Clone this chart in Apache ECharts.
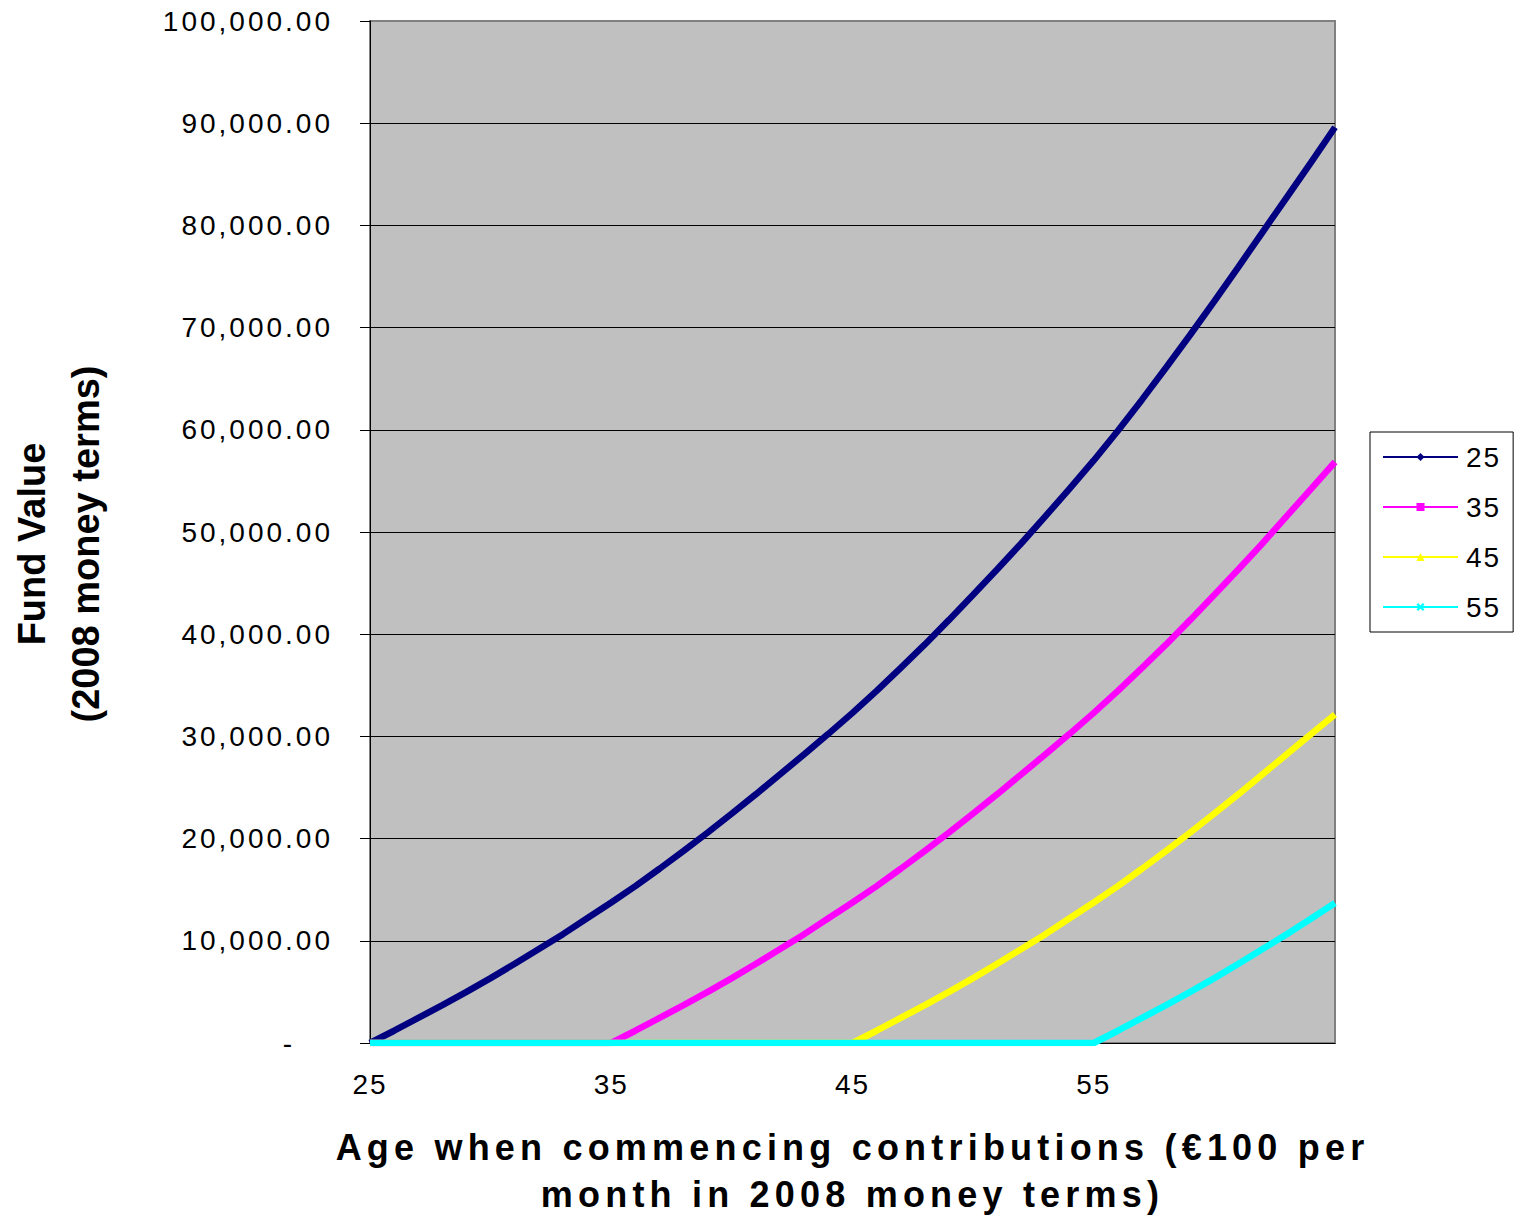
<!DOCTYPE html>
<html>
<head>
<meta charset="utf-8">
<script src="https://cdn.jsdelivr.net/npm/echarts@6/dist/echarts.min.js"></script>
<style>
  html, body { margin: 0; padding: 0; background: #ffffff; }
  #chart { width: 1516px; height: 1217px; }
</style>
</head>
<body>
<div id="chart"></div>
<script>
// ---- data (fund value at each age, 2008 money terms) ----
const ages = [25,26,27,28,29,30,31,32,33,34,35,36,37,38,39,40,41,42,43,44,45,46,47,48,49,50,51,52,53,54,55,56,57,58,59,60,61,62,63,64,65];
const seriesNames = ['25', '35', '45', '55'];
const fund25 = [0,1200,2450,3700,5000,6350,7750,9200,10650,12200,13750,15350,17050,18800,20600,22450,24350,26300,28250,30250,32300,34450,36700,39000,41400,43850,46350,48900,51550,54250,57000,59900,62950,66100,69300,72600,75950,79350,82750,86150,89600];
const fund35 = [0,0,0,0,0,0,0,0,0,0,0,1200,2450,3700,5000,6350,7750,9200,10650,12200,13750,15350,17050,18800,20600,22450,24350,26300,28250,30250,32300,34450,36700,39000,41400,43850,46350,48900,51550,54200,56850];
const fund45 = [0,0,0,0,0,0,0,0,0,0,0,0,0,0,0,0,0,0,0,0,0,1200,2450,3700,5000,6350,7750,9200,10650,12200,13750,15350,17050,18800,20600,22450,24350,26300,28250,30200,32150];
const fund55 = [0,0,0,0,0,0,0,0,0,0,0,0,0,0,0,0,0,0,0,0,0,0,0,0,0,0,0,0,0,0,0,1200,2450,3700,5000,6350,7750,9200,10650,12150,13700];
const xTickLabels = [25, 35, 45, 55];
const yTitle = 'Fund Value\n(2008 money terms)';
const xTitle = 'Age when commencing contributions (\u20ac100 per\nmonth in 2008 money terms)';

const FONT = "'Liberation Sans', Arial, sans-serif";
const colors = ['#000080', '#FF00FF', '#FFFF00', '#00FFFF'];
const symbols = ['diamond', 'rect', 'triangle',
  'path://M0,2L2,0L5,3L8,0L10,2L7,5L10,8L8,10L5,7L2,10L0,8L3,5Z'];
const allValues = [fund25, fund35, fund45, fund55];

const chart = echarts.init(document.getElementById('chart'), null, { renderer: 'svg' });

const option = {
  animation: false,
  backgroundColor: '#ffffff',
  textStyle: { fontFamily: FONT },
  grid: {
    left: 370, top: 21, right: 181, bottom: 174,
    show: true, backgroundColor: '#C0C0C0', borderColor: '#808080', borderWidth: 2,
    containLabel: false,
    outerBoundsMode: 'none'
  },
  xAxis: {
    type: 'value', min: 25, max: 65, interval: 10,
    axisLine: { show: true, lineStyle: { color: '#000', width: 1 } },
    axisTick: { show: false },
    splitLine: { show: false },
    axisLabel: {
      margin: 27, fontSize: 28, color: '#000', fontFamily: FONT,
      formatter: v => xTickLabels.includes(v) ? String(v) : ''
    },
    name: xTitle,
    nameLocation: 'middle',
    nameGap: 81,
    nameTextStyle: { fontSize: 36, fontWeight: 'bold', color: '#000', fontFamily: FONT, lineHeight: 47, align: 'center', verticalAlign: 'top' }
  },
  yAxis: {
    type: 'value', min: 0, max: 100000, interval: 10000,
    axisLine: { show: true, lineStyle: { color: '#000', width: 1 } },
    axisTick: { show: true, length: 10, inside: false, lineStyle: { color: '#000', width: 1 } },
    splitLine: { show: true, showMaxLine: false, showMinLine: false, lineStyle: { color: '#000', width: 1 } },
    axisLabel: {
      margin: 37, fontSize: 28, color: '#000', fontFamily: FONT,
      formatter: v => v === 0 ? '{dash|-}' : v.toLocaleString('en-US', { minimumFractionDigits: 2, maximumFractionDigits: 2 }),
      rich: { dash: { fontSize: 28, color: '#000', fontFamily: FONT, padding: [0, 39, 0, 0] } }
    }
  },
  legend: {
    orient: 'vertical', left: 1370, top: 432,
    padding: [11, 16, 11, 12],
    backgroundColor: '#ffffff', borderColor: '#000', borderWidth: 1,
    itemWidth: 75, itemHeight: 10, itemGap: 22,
    lineStyle: { width: 2 },
    itemStyle: { borderWidth: 0 },
    textStyle: { fontSize: 28, lineHeight: 28, color: '#000', fontFamily: FONT, padding: [0, 0, 0, 3] },
    data: seriesNames
  },
  graphic: [{
    type: 'text', x: 59, y: 544, rotation: Math.PI / 2,
    style: {
      text: yTitle, font: 'bold 38px ' + FONT, fill: '#000',
      align: 'center', verticalAlign: 'middle', lineHeight: 54
    }
  }],
  series: seriesNames.map((n, i) => ({
    name: n,
    type: 'line',
    data: ages.map((a, j) => [a, allValues[i][j]]),
    showSymbol: false,
    symbol: symbols[i],
    symbolSize: 8,
    lineStyle: { color: colors[i], width: 6.5 },
    itemStyle: { color: colors[i] },
    emphasis: { disabled: true },
    silent: true,
    z: 2 + i
  }))
};

chart.setOption(option);

function applySpacing() {
  document.querySelectorAll('#chart svg text').forEach(t => {
    const s = (t.textContent || '').trim();
    let ls = '2px';
    if (/^(Age when|month in)/.test(s)) ls = '5.2px';
    else if (/Fund Value|2008 money/.test(s)) ls = '0px';
    else if (s.indexOf(',') >= 0) ls = '3px';
    t.setAttribute('letter-spacing', ls);
  });
}
applySpacing();
chart.on('finished', applySpacing);
chart.on('rendered', applySpacing);
</script>
</body>
</html>
